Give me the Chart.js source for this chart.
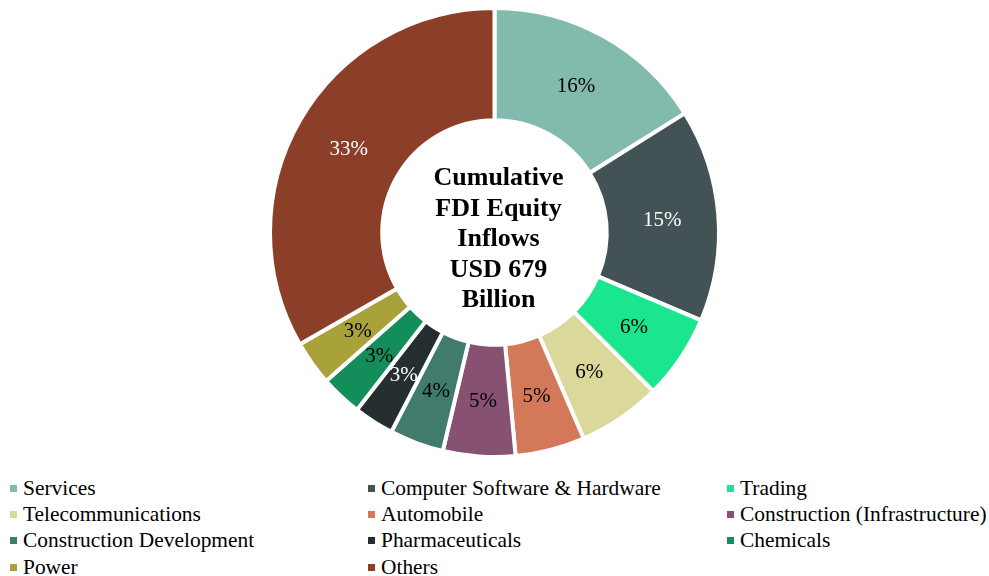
<!DOCTYPE html>
<html>
<head>
<meta charset="utf-8">
<script src="https://cdn.jsdelivr.net/npm/chart.js@4/dist/chart.umd.min.js"></script>
<style>
  body { margin: 0; background: #fff; }
  #wrap { position: relative; width: 989px; height: 576px; }
  #chartBox { position: absolute; left: 0; top: 0; width: 989px; height: 463px; }
  #legend {
    position: absolute; left: 10px; top: 475px;
    display: grid; grid-template-columns: 358px 359px auto;
    font-family: "Liberation Serif", "Times New Roman", serif;
    font-size: 21.4px; color: #000;
  }
  .item { display: flex; align-items: center; height: 26.3px; white-space: nowrap; }
  .box { width: 7px; height: 7px; margin-right: 6px; flex: none; }
</style>
</head>
<body>
<div id="wrap">
  <div id="chartBox"><canvas id="fdiChart"></canvas></div>
  <div id="legend"></div>
</div>
<script>
const sectors = [
  "Services", "Computer Software & Hardware", "Trading",
  "Telecommunications", "Automobile", "Construction (Infrastructure)",
  "Construction Development", "Pharmaceuticals", "Chemicals",
  "Power", "Others"
];
// share of cumulative inflows, %
const shares = [16.1, 15.3, 6.1, 6.0, 5.0, 5.2, 3.9, 2.9, 3.0, 3.2, 33.3];
const centerLines = ["Cumulative", "FDI Equity", "Inflows", "USD 679", "Billion"];

const sliceColors = [
  "#82bbad", "#435254", "#1ae68f", "#dad89b", "#d3795a", "#875272",
  "#417b6e", "#262f30", "#138d5a", "#a9a23b", "#8b3f28"
];
const textColors = [
  "#000", "#fff", "#000", "#000", "#000", "#000",
  "#000", "#fff", "#000", "#000", "#fff"
];

const serif = '"Liberation Serif", "Times New Roman", serif';

// percentage labels in the middle of each slice
const sliceLabels = {
  id: "sliceLabels",
  afterDatasetsDraw(chart) {
    const ctx = chart.ctx;
    const meta = chart.getDatasetMeta(0);
    const data = chart.data.datasets[0].data;
    const total = data.reduce((a, b) => a + b, 0);
    ctx.save();
    ctx.font = "21px " + serif;
    ctx.textAlign = "center";
    ctx.textBaseline = "middle";
    meta.data.forEach((arc, i) => {
      const p = arc.getCenterPoint();
      ctx.fillStyle = textColors[i];
      ctx.fillText(Math.round(data[i] / total * 100) + "%", p.x, p.y + 1);
    });
    ctx.restore();
  }
};

// caption inside the hole
const centerText = {
  id: "centerText",
  afterDraw(chart) {
    const ctx = chart.ctx;
    const arc = chart.getDatasetMeta(0).data[0];
    const lineH = 30.5;
    const y0 = arc.y - (centerLines.length - 1) * lineH / 2;
    ctx.save();
    ctx.font = "bold 26px " + serif;
    ctx.fillStyle = "#000";
    ctx.textAlign = "center";
    ctx.textBaseline = "middle";
    centerLines.forEach((line, i) => ctx.fillText(line, arc.x + 4, y0 + i * lineH + 7));
    ctx.restore();
  }
};

const chart = new Chart(document.getElementById("fdiChart"), {
  type: "doughnut",
  data: {
    labels: sectors,
    datasets: [{
      data: shares,
      backgroundColor: sliceColors,
      borderColor: "#fff",
      borderWidth: 4
    }]
  },
  options: {
    responsive: true,
    maintainAspectRatio: false,
    animation: false,
    cutout: "50%",
    layout: { padding: { top: 6, bottom: 4 } },
    plugins: {
      legend: { display: false },
      tooltip: { enabled: false }
    }
  },
  plugins: [sliceLabels, centerText]
});

// legend in three columns, built from the chart's own legend items
const legendEl = document.getElementById("legend");
chart.options.plugins.legend.labels.generateLabels(chart).forEach(item => {
  const row = document.createElement("div");
  row.className = "item";
  const box = document.createElement("span");
  box.className = "box";
  box.style.background = item.fillStyle;
  const txt = document.createElement("span");
  txt.textContent = item.text;
  row.appendChild(box);
  row.appendChild(txt);
  legendEl.appendChild(row);
});
</script>
</body>
</html>
